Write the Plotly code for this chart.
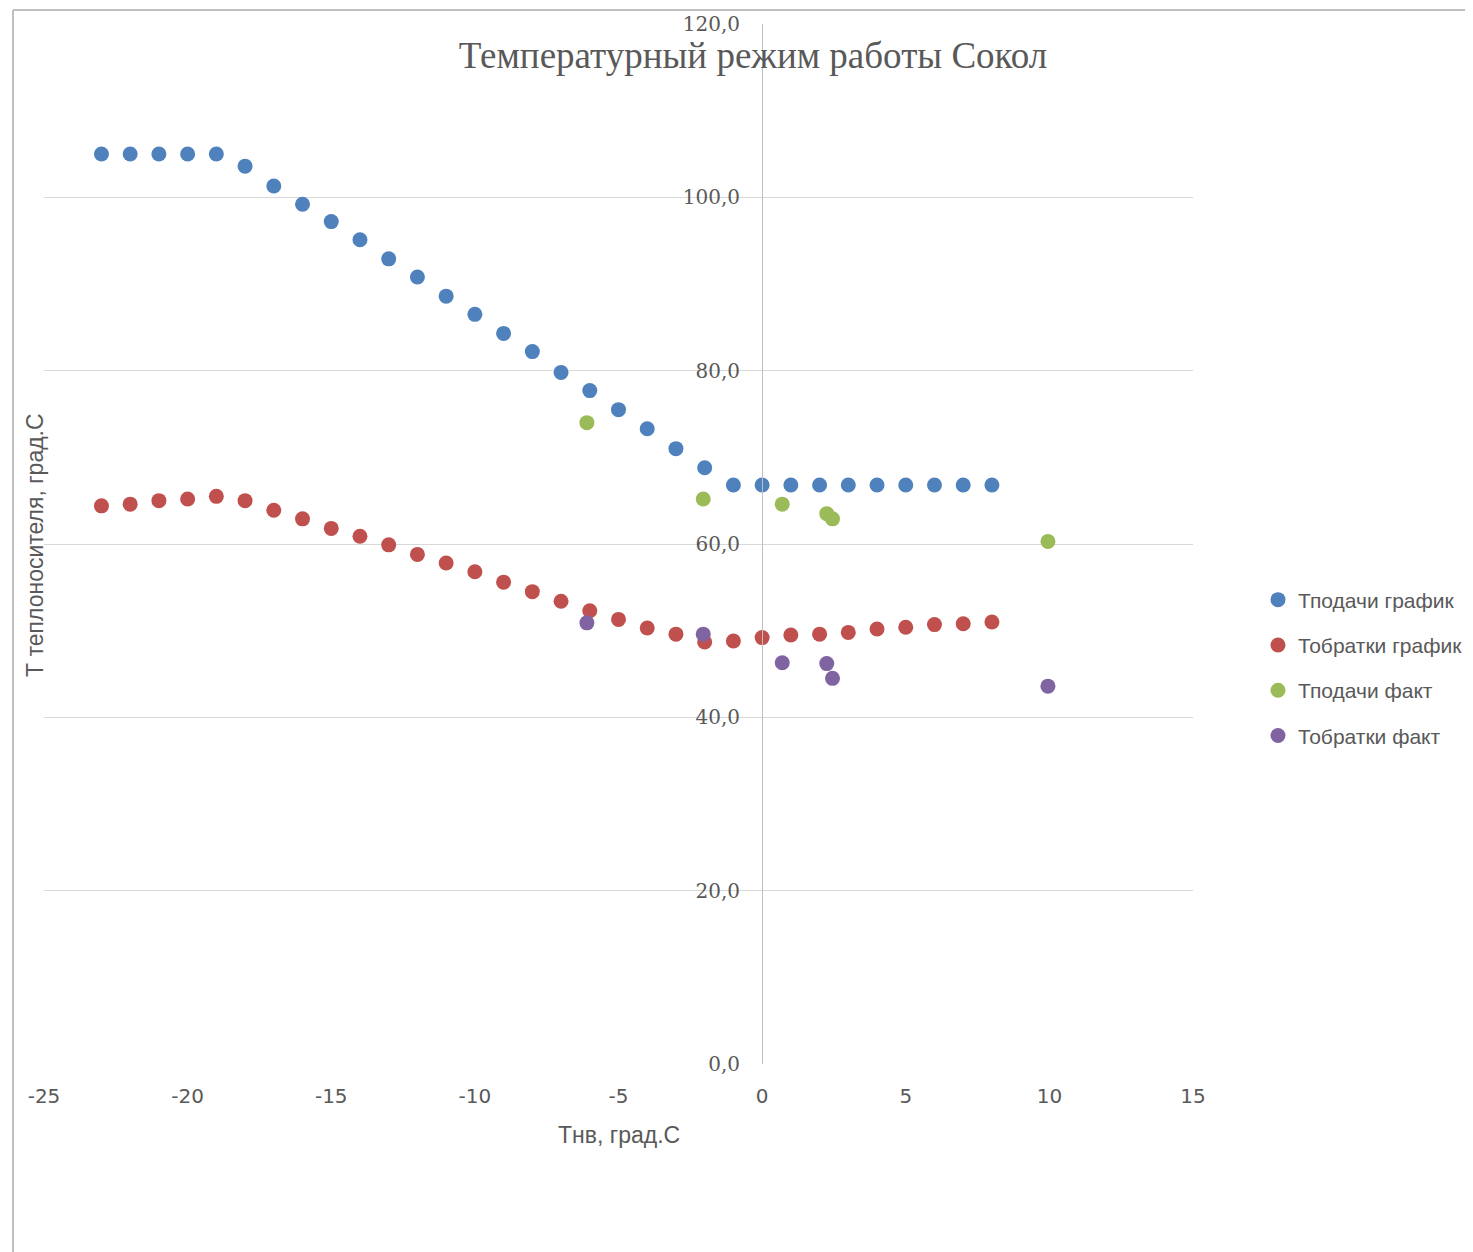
import plotly.graph_objects as go

# Data
x_graph = [-23, -22, -21, -20, -19, -18, -17, -16, -15, -14, -13, -12, -11, -10, -9, -8,
           -7, -6, -5, -4, -3, -2, -1, 0, 1, 2, 3, 4, 5, 6, 7, 8]
t_supply_graph = [105.0, 105.0, 105.0, 105.0, 105.0, 103.6, 101.3, 99.2, 97.2, 95.1, 92.9,
                  90.8, 88.6, 86.5, 84.3, 82.2, 79.8, 77.7, 75.5, 73.3, 71.0, 68.8, 66.8,
                  66.8, 66.8, 66.8, 66.8, 66.8, 66.8, 66.8, 66.8, 66.8]
t_return_graph = [64.4, 64.6, 65.0, 65.2, 65.5, 65.0, 63.9, 62.9, 61.8, 60.9, 59.9, 58.8,
                  57.8, 56.8, 55.6, 54.5, 53.4, 52.3, 51.3, 50.3, 49.6, 48.7, 48.8, 49.2,
                  49.5, 49.6, 49.8, 50.2, 50.4, 50.7, 50.8, 51.0]
x_fact = [-6.1, -2.05, 0.7, 2.25, 2.45, 9.95]
t_supply_fact = [74.0, 65.2, 64.6, 63.5, 62.9, 60.3]
t_return_fact = [50.9, 49.6, 46.3, 46.2, 44.5, 43.6]

x_tick_vals = [-25, -20, -15, -10, -5, 0, 5, 10, 15]
x_tick_text = ["-25", "-20", "-15", "-10", "-5", "0", "5", "10", "15"]
y_tick_vals = [0, 20, 40, 60, 80, 100, 120]
y_tick_text = ["0,0", "20,0", "40,0", "60,0", "80,0", "100,0", "120,0"]

series_names = ["Тподачи график", "Тобратки график", "Тподачи факт", "Тобратки факт"]
colors = ["#4F81BD", "#C0504D", "#9BBB59", "#8064A2"]

fig = go.Figure()
for i, (name, xs, ys, c) in enumerate([
    (series_names[0], x_graph, t_supply_graph, colors[0]),
    (series_names[1], x_graph, t_return_graph, colors[1]),
    (series_names[2], x_fact, t_supply_fact, colors[2]),
    (series_names[3], x_fact, t_return_fact, colors[3]),
]):
    fig.add_trace(go.Scatter(x=xs, y=ys, mode="markers", name=name, legendgroup=f"g{i}",
                             marker=dict(color=c, size=15, line=dict(width=0))))

OFF = 8  # page body offset
W, H = 1473 - OFF, 1252 - OFF
L, R, T, B = 44 - OFF, 1193 - OFF, 24 - OFF, 1064 - OFF


def px(xp):
    return (xp - OFF - L) / (R - L)


def py(yp):
    return (B - (yp - OFF)) / (B - T)


grey = "#595959"
fig.update_layout(
    width=W, height=H,
    margin=dict(l=L, r=W - R, t=T, b=H - B, autoexpand=False),
    paper_bgcolor="white", plot_bgcolor="white",
    showlegend=True,
    title=dict(text="Температурный режим работы Сокол", x=(753 - OFF) / W, xanchor="center",
               y=1 - (55 - OFF) / H, yanchor="middle",
               font=dict(family="Liberation Serif, Times New Roman, serif", size=37, color=grey)),
    legend=dict(x=px(1258), xanchor="left", y=py(668), yanchor="middle",
                font=dict(family="Liberation Sans, Arial, sans-serif", size=21, color=grey),
                itemsizing="trace", tracegroupgap=15, itemwidth=30,
                bgcolor="rgba(0,0,0,0)"),
    xaxis=dict(range=[-25, 15], tickvals=x_tick_vals, ticktext=x_tick_text,
               showgrid=False, zeroline=False, showline=False, ticks="",
               ticklabelstandoff=18,
               tickfont=dict(family="DejaVu Sans, sans-serif", size=20, color=grey)),
    yaxis=dict(range=[0, 120], tickvals=y_tick_vals, ticktext=y_tick_text,
               showgrid=True, gridcolor="#D9D9D9", gridwidth=1.3, zeroline=False,
               anchor="free", position=25 / 40, showline=True, linecolor="#BFBFBF", linewidth=1.3,
               ticks="", ticklabelstandoff=18,
               tickfont=dict(family="DejaVu Serif, serif", size=20, color=grey)),
)

# Axis titles
fig.add_annotation(text="Т теплоносителя, град.С", xref="paper", yref="paper",
                   x=px(35), y=py(545), textangle=-90,
                   showarrow=False, xanchor="center", yanchor="middle",
                   font=dict(family="Liberation Sans, Arial, sans-serif", size=23, color=grey))
fig.add_annotation(text="Тнв, град.С", xref="paper", yref="paper",
                   x=px(619), y=py(1135), showarrow=False, xanchor="center", yanchor="middle",
                   font=dict(family="Liberation Sans, Arial, sans-serif", size=23, color=grey))

# Chart area border (left and top lines)
bx = px(13)
by = py(10)
fig.add_shape(type="line", xref="paper", yref="paper", x0=bx, x1=bx, y0=by, y1=-1,
              line=dict(color="#BFBFBF", width=2))
fig.add_shape(type="line", xref="paper", yref="paper", x0=bx, x1=2, y0=by, y1=by,
              line=dict(color="#BFBFBF", width=2))

fig.write_html("out.html")
